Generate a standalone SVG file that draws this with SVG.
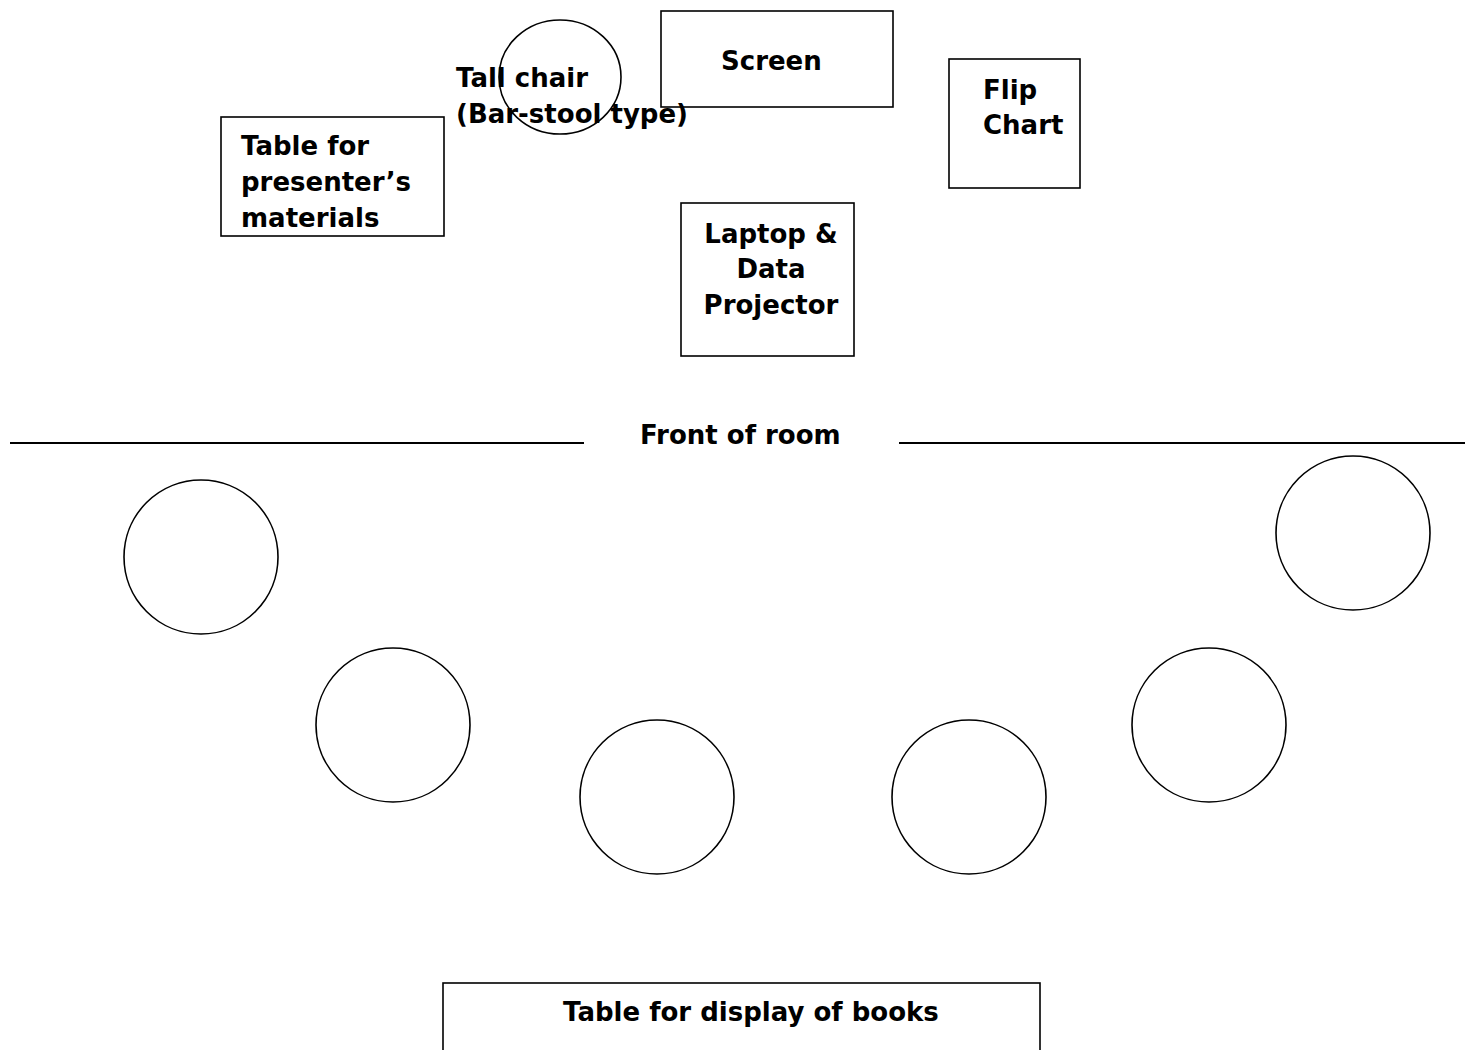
<svg xmlns="http://www.w3.org/2000/svg" width="1465" height="1050" viewBox="0 0 1465 1050">
<style>
.s{fill:none;stroke:#000;stroke-width:1.6}
.t{font-family:"DejaVu Sans","Verdana",sans-serif;font-weight:bold;font-size:26px;fill:#000}
.c{text-anchor:middle}
</style>
<rect width="1465" height="1050" fill="#fff"/>
<g id="screen"><rect class="s" x="661" y="11" width="232" height="96"/><text class="t" x="721" y="70">Screen</text></g>
<g id="tall-chair"><ellipse class="s" cx="560" cy="77" rx="61" ry="57"/><text class="t" x="456" y="87">Tall chair</text><text class="t" x="456" y="123">(Bar-stool type)</text></g>
<g id="presenter-table"><rect class="s" x="221" y="117" width="223" height="119"/><text class="t" x="241" y="155">Table for</text><text class="t" x="241" y="191">presenter’s</text><text class="t" x="241" y="227">materials</text></g>
<g id="flip-chart"><rect class="s" x="949" y="59" width="131" height="129"/><text class="t" x="983" y="99">Flip</text><text class="t" x="983" y="134">Chart</text></g>
<g id="laptop"><rect class="s" x="681" y="203" width="173" height="153"/><text class="t c" x="771" y="243">Laptop &amp;</text><text class="t c" x="771" y="278">Data</text><text class="t c" x="771" y="314">Projector</text></g>
<g id="front"><line x1="10" y1="443" x2="584" y2="443" stroke="#000" stroke-width="2"/><line x1="899" y1="443" x2="1465" y2="443" stroke="#000" stroke-width="2"/><text class="t" x="640" y="444">Front of room</text></g>
<g id="seats">
<circle class="s" cx="201" cy="557" r="77"/>
<circle class="s" cx="393" cy="725" r="77"/>
<circle class="s" cx="657" cy="797" r="77"/>
<circle class="s" cx="969" cy="797" r="77"/>
<circle class="s" cx="1209" cy="725" r="77"/>
<circle class="s" cx="1353" cy="533" r="77"/>
</g>
<g id="books-table"><rect class="s" x="443" y="983" width="597" height="80"/><text class="t" x="563" y="1021">Table for display of books</text></g>
<g id="connectors"/>
</svg>
